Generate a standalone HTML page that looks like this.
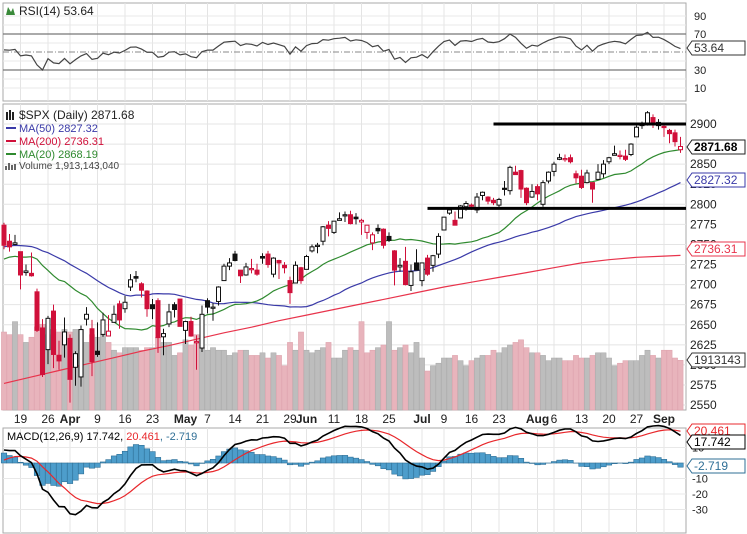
<!DOCTYPE html>
<html><head><meta charset="utf-8"><style>
html,body{margin:0;padding:0;background:#fff;}
svg{display:block;font-family:"Liberation Sans",sans-serif;}
</style></head><body>
<svg id="chart" width="747" height="534" viewBox="0 0 747 534" xmlns="http://www.w3.org/2000/svg"></svg>
<script>
// ---------- data ----------
const priorCloses = [2642,2639,2630,2629,2637,2652,2660,2664,2663,2652,2676,2690,2681,2679,2684,2683,2680,2682,2688,2674,
2696,2713,2724,2743,2748,2751,2748,2768,2786,2777,2803,2798,2810,2833,2839,2837,2839,2873,2853,2822,2824,
2822,2762,2649,2695,2682,2581,2620,2657,2662,2698,2732,2732,2716,2701,2704,2748,2780,2744,2714,
2678,2691,2721,2728,2727,2739,2786,2783,2765];
const ohlc = [
[2774,2777,2744,2749],[2754,2763,2741,2747],[2750,2762,2749,2752],[2741,2741,2694,2712],[2715,2725,2711,2717],[2714,2740,2710,2711],[2691,2695,2641,2643],[2646,2657,2585,2588],[2619,2661,2601,2658],[2667,2675,2596,2613],[2612,2630,2594,2605],[2625,2659,2609,2641],
[2633,2638,2553,2582],[2597,2617,2574,2614],[2585,2649,2573,2644],[2657,2672,2649,2663],[2645,2656,2586,2604],[2617,2653,2610,2613],[2638,2665,2635,2656],[2636,2662,2638,2642],[2653,2674,2653,2663],[2676,2680,2645,2656],[2670,2686,2665,2678],[2697,2713,2692,2706],[2710,2717,2703,2708],[2701,2703,2684,2693],[2692,2693,2660,2670],[2675,2682,2657,2670],[2680,2683,2615,2634],[2635,2645,2612,2639],[2651,2676,2647,2666],[2675,2678,2659,2669],[2682,2682,2648,2648],
[2643,2655,2626,2654],[2654,2660,2635,2636],[2628,2637,2594,2629],[2621,2674,2616,2663],[2680,2683,2664,2672],[2671,2677,2655,2672],[2679,2698,2674,2697],[2705,2726,2705,2723],[2723,2733,2718,2727],[2738,2742,2729,2730],[2718,2718,2702,2711],[2712,2727,2711,2722],[2719,2732,2714,2720],[2718,2726,2711,2713],[2735,2739,2726,2733],[2738,2742,2721,2725],[2713,2734,2709,2733],[2730,2731,2707,2727],[2724,2728,2714,2721],[2705,2710,2676,2690],[2702,2729,2702,2724],[2721,2722,2701,2705],
[2719,2737,2719,2735],[2742,2750,2740,2747],[2748,2752,2739,2749],[2754,2773,2749,2772],[2774,2779,2760,2770],[2765,2779,2763,2779],[2780,2790,2780,2782],[2786,2791,2778,2787],[2787,2792,2775,2776],[2784,2789,2775,2782],[2778,2782,2762,2780],[2765,2774,2757,2774],[2752,2765,2743,2762],[2770,2775,2763,2767],[2769,2770,2745,2749],[2760,2765,2753,2755],[2742,2743,2699,2718],[2722,2733,2716,2724],[2729,2747,2699,2700],[2699,2725,2692,2716],[2727,2744,2719,2718],
[2705,2727,2698,2727],[2733,2737,2711,2713],[2724,2737,2716,2736],[2738,2764,2733,2760],[2768,2784,2768,2784],[2789,2796,2787,2793],[2780,2791,2774,2774],[2783,2799,2783,2798],[2797,2804,2792,2801],[2799,2801,2793,2798],[2793,2814,2789,2809],[2811,2816,2805,2815],[2809,2810,2800,2804],[2805,2808,2799,2802],[2799,2808,2795,2806],[2820,2829,2811,2820],[2817,2848,2812,2846],[2840,2848,2837,2837],[2842,2843,2808,2819],[2820,2821,2799,2802],[2809,2825,2808,2816],
[2822,2825,2805,2813],[2800,2830,2797,2827],[2829,2841,2826,2840],[2841,2853,2835,2850],[2856,2863,2855,2858],[2856,2862,2853,2857],[2858,2862,2851,2853],[2838,2842,2826,2833],[2835,2843,2819,2821],[2827,2843,2826,2839],[2827,2827,2802,2819],[2831,2850,2831,2840],[2838,2855,2833,2850],[2853,2859,2850,2858],[2861,2873,2861,2863],[2860,2867,2856,2861],[2860,2868,2854,2856],[2862,2876,2860,2875],[2884,2898,2884,2896],[2901,2903,2894,2898],[2900,2916,2898,2914],[2908,2912,2895,2901],[2898,2906,2893,2902],
[2897,2900,2884,2896],[2892,2894,2876,2888],[2889,2893,2872,2878],[2868,2884,2864,2872]];
const volumes = [3.0,2.9,3.4,2.9,2.6,2.8,3.2,3.3,2.9,3.1,3.0,3.1,
3.0,3.1,3.1,2.6,2.9,2.8,2.9,2.6,2.3,2.2,2.4,2.4,2.4,2.3,2.4,2.4,2.8,2.6,2.6,2.1,2.2,
2.7,2.5,2.9,2.4,2.3,2.4,2.3,2.3,2.1,2.2,2.3,2.3,2.1,2.1,2.2,2.0,2.2,2.1,1.7,2.6,2.3,3.0,
2.3,2.2,2.3,2.4,2.6,2.0,2.0,2.3,2.4,2.3,3.4,2.2,2.3,2.4,2.5,3.4,2.3,2.4,2.5,2.2,2.6,
2.0,1.5,1.7,1.8,2.0,2.0,2.1,1.9,1.7,1.9,2.0,2.1,2.1,2.3,2.2,2.4,2.5,2.6,2.7,2.4,2.2,
2.2,2.1,1.9,2.0,2.0,1.9,1.9,2.1,2.0,2.0,2.1,2.2,2.2,2.0,1.7,1.8,1.9,1.9,1.9,2.1,2.3,2.1,2.0,
2.3,2.3,2.0,1.913];
const ma200Day = [0,5,10,15,20,25,30,35,40,45,50,55,60,65,70,75,80,85,90,95,100,105,110,115,120,123];
const ma200 = [2577,2585,2593,2601,2609,2617,2624,2632,2640,2647,2655,2662,2669,2676,2683,2690,2697,2703,2709,2715,2721,2727,2731,2734,2735.5,2736.31];
const xLabels = ["19","26","Apr","9","16","23","May","7","14","21","29","Jun","11","18","25","Jul","9","16","23","Aug","6","13","20","27","Sep"];
const xLabelDay = [3,8,12,17,22,27,33,37,42,47,52,55,60,65,70,76,80,85,90,97,100,105,110,115,120];
const priceTicks = [2550,2575,2600,2625,2650,2675,2700,2725,2750,2775,2800,2825,2850,2875,2900];
const rsiTicks = [90,70,30,10];
const macdTicks = [10,-10,-20,-30];
const supportLevels = [2900,2795];
const supportStartDay = [89,77];

// ---------- scales ----------
const NS="http://www.w3.org/2000/svg";
const svg=document.getElementById('chart');
const L=3,R=686;
const xd=i=>4+i*5.5;
const yP=p=>124+(2900-p)*0.803;
const yR=v=>34+(70-v)*0.9;
const yM=v=>463-v*1.55;
const yV=v=>410-v*26;
function el(t,a,p){const e=document.createElementNS(NS,t);for(const k in a)e.setAttribute(k,a[k]);(p||svg).appendChild(e);return e;}
function txt(x,y,s,a){const e=el('text',Object.assign({x:x,y:y,'font-size':11,fill:'#222'},a||{}));e.textContent=s;return e;}

// derived indicators
const closes=priorCloses.concat(ohlc.map(d=>d[3]));
const N0=priorCloses.length;
function sma(n,i){let s=0;for(let k=i-n+1;k<=i;k++)s+=closes[k];return s/n;}
function ema(arr,n){const a=2/(n+1);const out=[arr[0]];for(let i=1;i<arr.length;i++)out.push(arr[i]*a+out[i-1]*(1-a));return out;}
const e12=ema(closes,12),e26=ema(closes,26);
const macd=closes.map((c,i)=>e12[i]-e26[i]);
const sig=ema(macd,9);
const rsi=[];{let ag=0,al=0;for(let i=1;i<closes.length;i++){const d=closes[i]-closes[i-1];const g=Math.max(d,0),l=Math.max(-d,0);if(i<=14){ag+=g/14;al+=l/14;}else{ag=(ag*13+g)/14;al=(al*13+l)/14;}rsi[i]=100-100/(1+ag/(al||1e-9));}}

// ---------- panels ----------
const panels=[['rsi-panel',3,101],['price-panel',104,410],['macd-panel',428,533]];
panels.forEach(p=>{const r=el('rect',{x:L,y:p[1],width:R-L,height:p[2]-p[1],fill:'#fff',stroke:'#aaa'});});
// vertical grid
xLabelDay.forEach(d=>{[[3,101],[104,410],[428,533]].forEach(p=>{const g=el('line',{x1:xd(d),x2:xd(d),y1:p[0],y2:p[1],stroke:'#e4e4e4'});});});
// price grid + labels
priceTicks.forEach(t=>{const g=el('line',{x1:L,x2:R,y1:yP(t),y2:yP(t),stroke:'#e4e4e4'});
const s=txt(690,yP(t)+4,String(t),{'font-size':12});});
// rsi grid
[90,80,60,40,20,10].forEach(t=>{el('line',{x1:L,x2:R,y1:yR(t),y2:yR(t),stroke:'#e8e8e8'});});
rsiTicks.forEach(t=>{const s=txt(694,yR(t)+4,String(t));});
[70,30].forEach(t=>{const g=el('line',{x1:L,x2:R,y1:yR(t),y2:yR(t),stroke:'#777','stroke-width':1.3});});
el('line',{x1:L,x2:R,y1:yR(50),y2:yR(50),stroke:'#888','stroke-dasharray':'6,2,1,2'});
// macd grid
[10,0,-10,-20,-30].forEach(t=>{el('line',{x1:L,x2:R,y1:yM(t),y2:yM(t),stroke:'#e8e8e8'});});
macdTicks.forEach(t=>{const s=txt(692,yM(t)+4,String(t));});

// x labels
xLabels.forEach((s,i)=>{const month=isNaN(+s);const t=txt(xd(xLabelDay[i]),423,s,{'text-anchor':'middle','font-size':12,'font-weight':month?'bold':'normal'});});

// volume
volumes.forEach((v,i)=>{const up=closes[N0+i]>=closes[N0+i-1];const b=el('rect',{x:xd(i)-2.6,y:yV(v),width:5.2,height:410-yV(v),fill:up?'#bdbdbd':'#e8b4bc',stroke:up?'#a8a8a8':'#dca0aa','stroke-width':0.5});});

// moving averages
function poly(pts,color,name,w){const p=el('polyline',{points:pts.map(q=>q[0].toFixed(1)+','+q[1].toFixed(1)).join(' '),fill:'none',stroke:color,'stroke-width':w||1.2});return p;}
poly(ma200Day.map((d,i)=>[xd(d),yP(ma200[i])]),'#e8344c','ma200-line');
poly(ohlc.map((d,i)=>[xd(i),yP(sma(50,N0+i))]),'#3a3aa8','ma50-line');
poly(ohlc.map((d,i)=>[xd(i),yP(sma(20,N0+i))]),'#2f8a2f','ma20-line');

// candles
ohlc.forEach((d,i)=>{const [o,h,l,c]=d;const prev=closes[N0+i-1];const col=c<prev?'#d0103a':'#111';const x=xd(i);
const g=el('g',{});
el('line',{x1:x,x2:x,y1:yP(h),y2:yP(l),stroke:col,'stroke-width':1},g);
const top=yP(Math.max(o,c)),bh=Math.max(1.2,Math.abs(yP(o)-yP(c)));
el('rect',{x:x-2,y:top,width:4,height:bh,fill:c>o?'#fff':col,stroke:col,'stroke-width':1},g);});

// support lines
supportLevels.forEach((lv,i)=>{const s=el('line',{x1:xd(supportStartDay[i]),x2:R,y1:yP(lv),y2:yP(lv),stroke:'#000','stroke-width':3});});

// RSI line
poly(ohlc.map((d,i)=>[xd(i),yR(rsi[N0+i])]),'#444','rsi-line',1.2);

// MACD histogram & lines
ohlc.forEach((d,i)=>{const h=macd[N0+i]-sig[N0+i];const y0=yM(0),y1=yM(h);const b=el('rect',{x:xd(i)-2.75,y:Math.min(y0,y1),width:5.5,height:Math.abs(y1-y0),fill:'#4d9dcb',stroke:'#2f6f96','stroke-width':0.6});});
poly(ohlc.map((d,i)=>[xd(i),yM(sig[N0+i])]),'#e8282c','macd-signal-line',1.2);
poly(ohlc.map((d,i)=>[xd(i),yM(macd[N0+i])]),'#000','macd-line',1.6);

// value tags
function tag(y,label,color,bold,name){const g=el('g',{});
el('polygon',{points:`${R+1},${y} ${R+6},${y-7} 745,${y-7} 745,${y+7} ${R+6},${y+7}`,fill:'#fff',stroke:color,'stroke-width':1},g);
const t=el('text',{x:R+8,y:y+4,'font-size':bold?12:12,'font-weight':bold?'bold':'normal',fill:bold?'#000':color},g);t.textContent=label;}
tag(48,'53.64','#333',false,'rsi-value-tag');
tag(147,'2871.68','#222',true,'price-value-tag');
tag(180,'2827.32','#3a3aa8',false,'ma50-value-tag');
tag(249,'2736.31','#e8344c',false,'ma200-value-tag');
tag(360,'1913143','#333',false,'volume-value-tag');
tag(431,'20.461','#e8282c',false,'signal-value-tag');
tag(442,'17.742','#000',false,'macd-value-tag');
tag(466,'-2.719','#2f6f96',false,'histogram-value-tag');

// legends
const lg=[
[7,12,'RSI(14) 53.64','#222','rsi-legend'],
[7,116,'$SPX (Daily) 2871.68','#222','price-legend'],
[7,129,'MA(50) 2827.32','#3a3aa8','ma50-legend'],
[7,142,'MA(200) 2736.31','#d0103a','ma200-legend'],
[7,155,'MA(20) 2868.19','#2f8a2f','ma20-legend'],
[7,166,'Volume 1,913,143,040','#444','volume-legend']];
lg.forEach(a=>{const t=txt(a[0]+12,a[1]+3,a[2],{fill:a[3],'font-size':a[4]==='volume-legend'?10:(a[4]==='rsi-legend'||a[4]==='price-legend'?12:11)});
if(a[4].indexOf('ma')===0)el('line',{x1:a[0]-1,x2:a[0]+9,y1:a[1]-1,y2:a[1]-1,stroke:a[3],'stroke-width':2});});
el('path',{d:'M6,15 L8,7 L11,12 L13,8 L15,15 Z',fill:'#3a8a3a'});
el('path',{d:'M7,112 v8 M10,110 v10 M13,112 v8',stroke:'#222','stroke-width':2});
el('path',{d:'M6,170 v-4 M9,170 v-7 M12,170 v-5 M15,170 v-6',stroke:'#666','stroke-width':2});
const ml=el('text',{x:7,y:440,'font-size':11});
[['MACD(12,26,9) 17.742, ','#000'],['20.461','#e8282c'],[', -2.719','#2f6f96']].forEach(p=>{const s=el('tspan',{fill:p[1]},ml);s.textContent=p[0];});
</script>
</body></html>
